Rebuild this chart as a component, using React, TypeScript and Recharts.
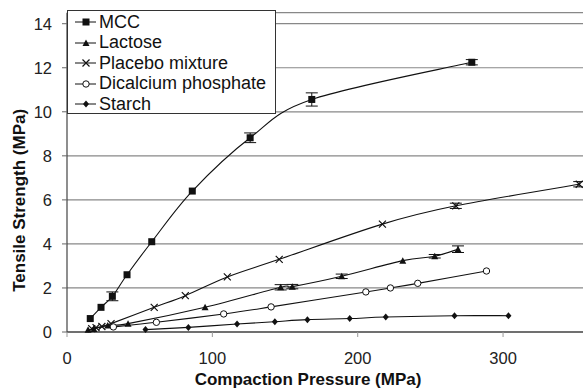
import React from 'react';
import {
  CartesianGrid,
  ErrorBar,
  Line,
  LineChart,
  XAxis,
  YAxis,
} from 'recharts';

// compaction pressure (MPa) / tensile strength (MPa) / error (MPa)
const mccX = [16, 23.4, 31.2, 41.3, 58.3, 86.2, 126, 168.4, 278.5];
const mccY = [0.61, 1.12, 1.62, 2.6, 4.1, 6.4, 8.82, 10.56, 12.25];
const mccErr = [0, 0, 0.2, 0, 0, 0, 0.22, 0.3, 0.12];

const lactoseX = [14.5, 18.5, 28, 42, 95, 147, 155, 189, 231, 253, 269];
const lactoseY = [0.1, 0.14, 0.3, 0.38, 1.12, 2.03, 2.06, 2.53, 3.24, 3.44, 3.76];
const lactoseErr = [0, 0, 0, 0, 0, 0.12, 0.1, 0.1, 0, 0.08, 0.15];

const placeboX = [17, 20, 24, 30.3, 60, 81.4, 110.3, 146, 217, 267.5, 352.4];
const placeboY = [0.15, 0.2, 0.25, 0.38, 1.12, 1.65, 2.5, 3.3, 4.9, 5.73, 6.71];
const placeboErr = [0, 0, 0, 0, 0, 0, 0, 0, 0, 0.12, 0.12];

const dicalciumX = [31.9, 61.5, 107.8, 140.4, 205.6, 222.5, 241.3, 288.6];
const dicalciumY = [0.23, 0.44, 0.82, 1.14, 1.82, 2.0, 2.21, 2.77];

const starchX = [54, 83.5, 117, 143, 165.4, 194.5, 219.3, 266.6, 303.7];
const starchY = [0.11, 0.21, 0.36, 0.47, 0.56, 0.61, 0.68, 0.74, 0.74];

const xTicks = [0, 100, 200, 300];
const yTicks = [0, 2, 4, 6, 8, 10, 12, 14];

const zip = (xs: number[], ys: number[], errs?: number[]) =>
  xs.map((x, i) => ({ x, y: ys[i], err: errs ? errs[i] : 0 }));

const FONT = '"Liberation Sans", Arial, sans-serif';
const INK = '#111';

// spreadsheet-style smoothed line: uniform Catmull-Rom drawn as cubic Beziers
const smoothCurve = (context: any) => {
  let pts: [number, number][] = [];
  return {
    areaStart() {},
    areaEnd() {},
    lineStart() {
      pts = [];
    },
    point(x: number, y: number) {
      pts.push([+x, +y]);
    },
    lineEnd() {
      if (!pts.length) return;
      context.moveTo(pts[0][0], pts[0][1]);
      for (let i = 0; i < pts.length - 1; i++) {
        const p0 = pts[i - 1] ?? pts[i];
        const p1 = pts[i];
        const p2 = pts[i + 1];
        const p3 = pts[i + 2] ?? p2;
        context.bezierCurveTo(
          p1[0] + (p2[0] - p0[0]) / 6,
          p1[1] + (p2[1] - p0[1]) / 6,
          p2[0] - (p3[0] - p1[0]) / 6,
          p2[1] - (p3[1] - p1[1]) / 6,
          p2[0],
          p2[1],
        );
      }
    },
  };
};

type Shape = 'square' | 'triangle' | 'cross' | 'circle' | 'diamond';

function Marker({ shape, cx, cy }: { shape: Shape; cx: number; cy: number }) {
  switch (shape) {
    case 'square':
      return <rect x={cx - 3.5} y={cy - 3.5} width={7} height={7} fill={INK} />;
    case 'triangle':
      return (
        <polygon
          points={`${cx},${cy - 3.5} ${cx + 3.5},${cy + 3} ${cx - 3.5},${cy + 3}`}
          fill={INK}
        />
      );
    case 'cross':
      return (
        <path
          d={`M${cx - 3.5},${cy - 3.5}L${cx + 3.5},${cy + 3.5}M${cx + 3.5},${cy - 3.5}L${cx - 3.5},${cy + 3.5}`}
          stroke={INK}
          strokeWidth={1.2}
        />
      );
    case 'circle':
      return <circle cx={cx} cy={cy} r={3.2} fill="#fff" stroke={INK} strokeWidth={1} />;
    case 'diamond':
      return (
        <polygon
          points={`${cx},${cy - 3.5} ${cx + 3},${cy} ${cx},${cy + 3.5} ${cx - 3},${cy}`}
          fill={INK}
        />
      );
  }
}

const series: { name: string; shape: Shape; data: { x: number; y: number; err: number }[] }[] = [
  { name: 'MCC', shape: 'square', data: zip(mccX, mccY, mccErr) },
  { name: 'Lactose', shape: 'triangle', data: zip(lactoseX, lactoseY, lactoseErr) },
  { name: 'Placebo mixture', shape: 'cross', data: zip(placeboX, placeboY, placeboErr) },
  { name: 'Dicalcium phosphate', shape: 'circle', data: zip(dicalciumX, dicalciumY) },
  { name: 'Starch', shape: 'diamond', data: zip(starchX, starchY) },
];

function LegendBox() {
  return (
    <div
      style={{
        position: 'absolute',
        left: 67,
        top: 10,
        width: 207,
        height: 101,
        border: '1px solid #333',
        background: '#fff',
        fontFamily: FONT,
        fontSize: 18,
        color: '#111',
        boxSizing: 'content-box',
        paddingTop: 1,
      }}
    >
      {series.map((s) => (
        <div key={s.name} style={{ display: 'flex', alignItems: 'center', height: 20.5 }}>
          <svg width={24} height={14} style={{ marginLeft: 6, marginRight: 1 }}>
            <line x1={1} y1={7} x2={22} y2={7} stroke={INK} strokeWidth={1} />
            <Marker shape={s.shape} cx={12} cy={7} />
          </svg>
          <span>{s.name}</span>
        </div>
      ))}
    </div>
  );
}

export default function App() {
  return (
    <div style={{ position: 'fixed', left: 0, top: 0, width: 583, height: 389, background: '#fff' }}>
      <LineChart width={583} height={389} margin={{ top: 12.7, right: 0, bottom: 27, left: 0 }}>
        <CartesianGrid vertical={false} stroke="#888" strokeWidth={1.2} />
        <XAxis
          type="number"
          dataKey="x"
          domain={[0, 355]}
          ticks={xTicks}
          height={30}
          allowDataOverflow
          axisLine={{ stroke: '#555', strokeWidth: 1.5 }}
          tickLine={{ stroke: '#999' }}
          tickSize={5}
          tickMargin={15}
          tick={{ fill: '#222', fontSize: 16.5, fontFamily: FONT }}
          label={{
            value: 'Compaction Pressure (MPa)',
            position: 'insideBottom',
            offset: -23,
            dx: -17,
            fill: '#111',
            fontSize: 17,
            fontWeight: 'bold',
            fontFamily: FONT,
          }}
        />
        <YAxis
          type="number"
          dataKey="y"
          domain={[0, 14.5]}
          ticks={yTicks}
          width={67}
          axisLine={{ stroke: '#444', strokeWidth: 1.2 }}
          tickLine={{ stroke: '#666' }}
          tickSize={5}
          tickMargin={10}
          tick={{ fill: '#222', fontSize: 16.5, fontFamily: FONT }}
          label={{
            value: 'Tensile Strength (MPa)',
            angle: -90,
            position: 'insideLeft',
            offset: 19,
            dy: 28,
            fill: '#111',
            fontSize: 17,
            fontWeight: 'bold',
            fontFamily: FONT,
            style: { textAnchor: 'middle' },
          }}
        />
        {series.map((s) => (
          <Line
            key={s.name}
            name={s.name}
            data={s.data}
            dataKey="y"
            type={smoothCurve as any}
            stroke={INK}
            strokeWidth={1.1}
            isAnimationActive={false}
            dot={(p: any) => <Marker key={`${s.name}-${p.index}`} shape={s.shape} cx={p.cx} cy={p.cy} />}
            activeDot={false}
          >
            <ErrorBar dataKey="err" direction="y" width={6} stroke={INK} strokeWidth={1} />
          </Line>
        ))}
      </LineChart>
      <LegendBox />
    </div>
  );
}
